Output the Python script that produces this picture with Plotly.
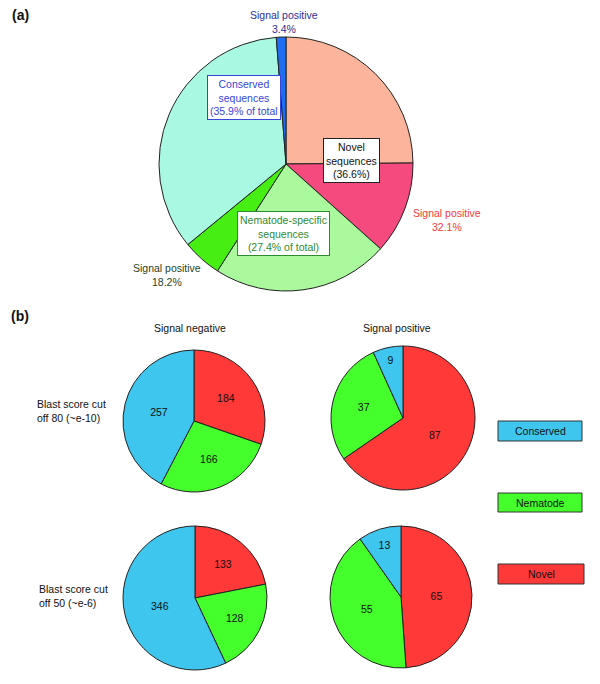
import plotly.graph_objects as go

# ---------------- data ----------------
# (a) overall composition: group share of total (%) and % signal positive within group
groups_a = ["Novel", "Nematode-specific", "Conserved"]
group_total_pct = [36.6, 27.4, 35.9]
group_signal_pos_pct = [32.1, 18.2, 3.4]

# (b) counts per category (order: Novel, Nematode, Conserved)
categories_b = ["Novel", "Nematode", "Conserved"]
neg_80 = [184, 166, 257]
pos_80 = [87, 37, 9]
neg_50 = [133, 128, 346]
pos_50 = [65, 55, 13]

col_titles = ["Signal negative", "Signal positive"]
row_titles = ["Blast score cut<br>off 80 (~e-10)", "Blast score cut<br>off 50 (~e-6)"]
legend_labels = ["Conserved", "Nematode", "Novel"]

# ---------------- styles ----------------
W, H = 600, 684
FONT = "Liberation Sans, Arial, Helvetica, sans-serif"
FS = 10.5

colors_a = ["#FCB59C", "#F44A7E", "#AAF99C", "#46EE14", "#A9F8E2", "#1F6DF0"]
cat_colors = {"Novel": "#FF3838", "Nematode": "#44FF2B", "Conserved": "#3EC6EE"}


def px_dom(cx, cy, r):
    return dict(x=[(cx - r) / W, (cx + r) / W], y=[1 - (cy + r) / H, 1 - (cy - r) / H])


def px(x, y):
    return x / W, 1 - y / H


# build slice values for (a): negative / positive part of each group
labels_a, values_a = [], []
for g, tot, sp in zip(groups_a, group_total_pct, group_signal_pos_pct):
    labels_a += [g + " (signal negative)", g + " (signal positive)"]
    values_a += [tot * (1 - sp / 100.0), tot * sp / 100.0]

fig = go.Figure()

fig.add_trace(go.Pie(
    labels=labels_a, values=values_a, sort=False, direction="clockwise", rotation=0,
    marker=dict(colors=colors_a, line=dict(color="#222222", width=1)),
    textinfo="none", hoverinfo="label+percent", showlegend=False,
    domain=px_dom(286, 164, 127),
))

pies_b = [
    (neg_80, px_dom(194, 421, 71)),
    (pos_80, px_dom(403, 418, 72)),
    (neg_50, px_dom(195, 598, 72)),
    (pos_50, px_dom(401, 597, 71)),
]
for vals, dom in pies_b:
    fig.add_trace(go.Pie(
        labels=categories_b, values=vals, sort=False, direction="clockwise", rotation=0,
        marker=dict(colors=[cat_colors[c] for c in categories_b], line=dict(color="#222222", width=1)),
        textinfo="value", textposition="inside", insidetextorientation="horizontal",
        textfont=dict(family=FONT, size=FS, color="#111111"),
        showlegend=False, domain=dom,
    ))

ann = []


def add_text(x, y, text, color="#111111", size=FS, bold=False, box=None, xanchor="center", align="center"):
    ax, ay = px(x, y)
    d = dict(x=ax, y=ay, xref="paper", yref="paper", text=("<b>%s</b>" % text) if bold else text,
             showarrow=False, xanchor=xanchor, yanchor="middle", align=align,
             font=dict(family=FONT, size=size, color=color))
    if box:
        d.update(bgcolor="white", bordercolor=box, borderwidth=1, borderpad=2)
    ann.append(d)


add_text(20, 15, "(a)", size=14, bold=True)
add_text(20, 316, "(b)", size=14, bold=True)

add_text(284, 22, "Signal positive<br>%.1f%%" % group_signal_pos_pct[2], color="#2E2E96")
add_text(244, 98, "Conserved<br>sequences<br>(%.1f%% of total" % group_total_pct[2], color="#3546D8", box="#3546D8")
add_text(351, 160, "Novel<br>sequences<br>(%.1f%%)" % group_total_pct[0], color="#111111", box="#222222")
add_text(447, 220, "Signal positive<br>%.1f%%" % group_signal_pos_pct[0], color="#F23A3A")
add_text(283, 233, "Nematode-specific<br>sequences<br>(%.1f%% of total)" % group_total_pct[1], color="#2F8A2F", box="#2F8A2F")
add_text(167, 275, "Signal positive<br>%.1f%%" % group_signal_pos_pct[1], color="#1F3F1F")

add_text(190, 328, col_titles[0])
add_text(397, 328, col_titles[1])
add_text(35, 411, row_titles[0], xanchor="left", align="left")
add_text(37, 596, row_titles[1], xanchor="left", align="left")

shapes = []
legend_boxes = [(498, 421, 582, 441), (498, 493, 582, 512), (498, 564, 584, 584)]
for lab, (x0, y0, x1, y1) in zip(legend_labels, legend_boxes):
    X0, Y0 = px(x0, y0)
    X1, Y1 = px(x1, y1)
    shapes.append(dict(type="rect", xref="paper", yref="paper", x0=X0, x1=X1, y0=Y1, y1=Y0,
                       fillcolor=cat_colors[lab], line=dict(color="#333333", width=1)))
    add_text((x0 + x1) / 2, (y0 + y1) / 2, lab)

fig.update_layout(
    width=W, height=H, margin=dict(l=0, r=0, t=0, b=0),
    paper_bgcolor="white", plot_bgcolor="white",
    annotations=ann, shapes=shapes,
    font=dict(family=FONT, size=FS),
)

fig.write_html("out.html", config={"displayModeBar": False},
               post_script="document.body.style.margin='0';document.body.style.overflow='hidden';")
